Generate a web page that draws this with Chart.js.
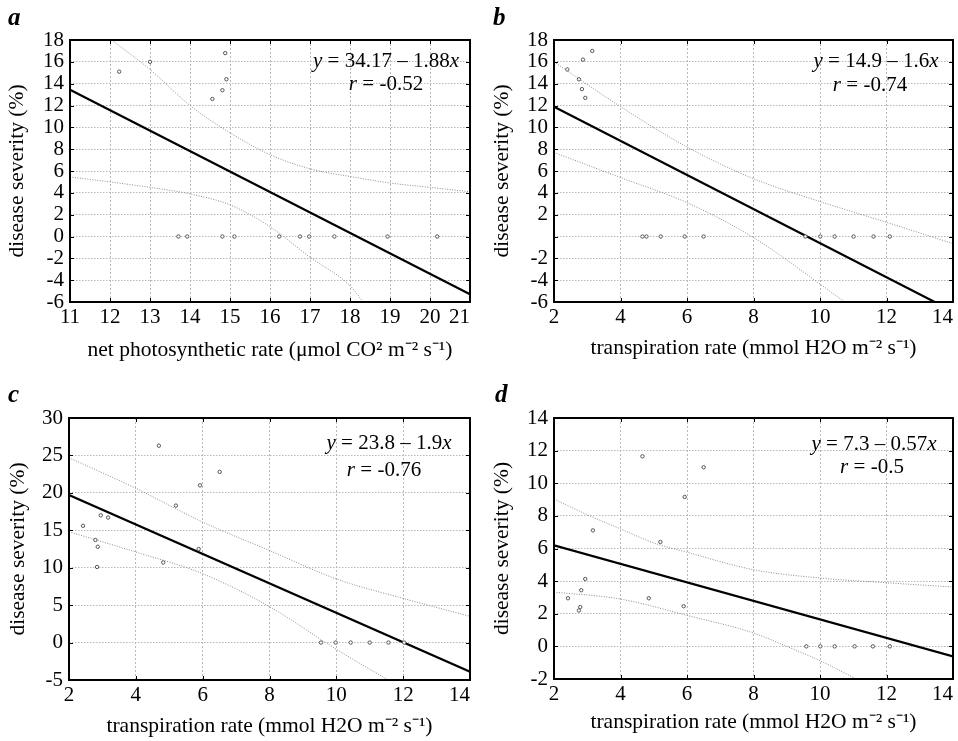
<!DOCTYPE html>
<html>
<head>
<meta charset="utf-8">
<script src="https://cdn.jsdelivr.net/npm/chart.js@4/dist/chart.umd.min.js"></script>
<style>
  html, body { margin: 0; padding: 0; background: #fff; }
  #wrap { position: relative; width: 958px; height: 741px; overflow: hidden; }
  canvas { position: absolute; display: block; }
</style>
</head>
<body>
<div id="wrap">
  <canvas id="chartA" width="479" height="370" style="left:0;top:0"></canvas>
  <canvas id="chartB" width="479" height="370" style="left:479px;top:0"></canvas>
  <canvas id="chartC" width="479" height="371" style="left:0;top:370px"></canvas>
  <canvas id="chartD" width="479" height="371" style="left:479px;top:370px"></canvas>
</div>
<script>
(function () {
  "use strict";

  /* ===== Data ===== */
  var Y_TITLE = "disease severity (%)";
  var X_TITLE_A = "net photosynthetic rate (\u03bcmol CO\u00b2 m\u207b\u00b2 s\u207b\u00b9)";
  var X_TITLE_T = "transpiration rate (mmol H2O m\u207b\u00b2 s\u207b\u00b9)";

  // a: photosynthetic rate vs severity
  var A_X_TICKS = [11, 12, 13, 14, 15, 16, 17, 18, 19, 20, 21];
  var A_Y_TICKS = [-6, -4, -2, 0, 2, 4, 6, 8, 10, 12, 14, 16, 18];
  var A_PTS_X = [12.23, 13.0, 14.88, 14.91, 14.81, 14.56, 13.71, 13.93, 14.81, 15.11, 16.23, 16.75, 16.98, 17.61, 18.94, 20.18];
  var A_PTS_Y = [15.1, 16.0, 16.8, 14.4, 13.4, 12.6, 0, 0, 0, 0, 0, 0, 0, 0, 0, 0];
  var A_FIT_X = [11, 21];
  var A_FIT_Y = [13.45, -5.3];
  var A_UP_X = [12.04, 13, 14, 15, 16, 17, 18, 19, 20, 21];
  var A_UP_Y = [18, 15.3, 12.0, 9.5, 7.5, 6.2, 5.5, 4.9, 4.5, 4.1];
  var A_LO_X = [11, 12, 13, 14, 15, 16, 17, 18, 18.33];
  var A_LO_Y = [5.45, 5.0, 4.5, 3.9, 2.9, 0.9, -1.9, -4.5, -6];
  var A_EQ = "34.17 \u2013 1.88";
  var A_R = "-0.52";

  // b: transpiration rate vs severity
  var T_X_TICKS = [2, 4, 6, 8, 10, 12, 14];
  var B_Y_TICKS = [-6, -4, -2, 0, 2, 4, 6, 8, 10, 12, 14, 16, 18];
  var B_PTS_X = [2.40, 2.87, 3.15, 2.75, 2.84, 2.94, 4.66, 4.78, 5.21, 5.93, 6.50, 9.56, 10.01, 10.44, 11.01, 11.61, 12.10];
  var B_PTS_Y = [15.3, 16.2, 17.0, 14.4, 13.5, 12.7, 0, 0, 0, 0, 0, 0, 0, 0, 0, 0, 0];
  var B_FIT_X = [2, 13.45];
  var B_FIT_Y = [11.88, -6];
  var B_UP_X = [2, 4, 6, 8, 10, 12, 14];
  var B_UP_Y = [16.0, 11.9, 8.2, 5.3, 3.2, 1.3, -0.65];
  var B_LO_X = [2, 4, 6, 8, 10, 10.74];
  var B_LO_Y = [7.7, 5.4, 3.1, -0.1, -4.35, -6];
  var B_EQ = "14.9 \u2013 1.6";
  var B_R = "-0.74";

  // c
  var C_Y_TICKS = [-5, 0, 5, 10, 15, 20, 25, 30];
  var C_PTS_X = [4.69, 6.51, 5.92, 5.20, 2.95, 3.17, 2.42, 2.79, 2.86, 5.88, 4.82, 2.84, 9.54, 9.98, 10.43, 11.00, 11.56, 12.03];
  var C_PTS_Y = [26.3, 22.8, 21.0, 18.3, 17.0, 16.7, 15.6, 13.7, 12.8, 12.5, 10.7, 10.1, 0, 0, 0, 0, 0, 0];
  var C_FIT_X = [2, 14];
  var C_FIT_Y = [19.7, -3.9];
  var C_UP_X = [2, 4, 6, 8, 10, 12, 14];
  var C_UP_Y = [24.7, 20.6, 16.1, 12.3, 8.5, 5.9, 3.5];
  var C_LO_X = [2, 4, 6, 8, 10, 11.55];
  var C_LO_Y = [14.8, 12.1, 9.2, 4.8, -0.9, -5];
  var C_EQ = "23.8 \u2013 1.9";
  var C_R = "-0.76";

  // d
  var D_Y_TICKS = [-2, 0, 2, 4, 6, 8, 10, 12, 14];
  var D_PTS_X = [4.66, 6.50, 5.93, 3.17, 5.20, 2.94, 2.82, 2.42, 4.85, 5.90, 2.79, 2.75, 9.59, 10.01, 10.44, 11.04, 11.59, 12.10];
  var D_PTS_Y = [11.65, 10.98, 9.16, 7.11, 6.40, 4.13, 3.44, 2.95, 2.95, 2.46, 2.41, 2.2, 0, 0, 0, 0, 0, 0];
  var D_FIT_X = [2, 14];
  var D_FIT_Y = [6.19, -0.61];
  var D_UP_X = [2, 3, 4, 5, 6, 8, 10, 12, 14];
  var D_UP_Y = [9.03, 8.07, 7.2, 6.34, 5.77, 4.7, 4.19, 3.9, 3.64];
  var D_LO_X = [2, 4, 6, 8, 9, 10, 11.09];
  var D_LO_Y = [3.33, 2.9, 1.9, 0.82, 0, -0.88, -2];
  var D_EQ = "7.3 \u2013 0.57";
  var D_R = "-0.5";

  /* ===== Styles ===== */
  var SERIF = "'Liberation Serif', 'Times New Roman', serif";
  var TICK_FONT = { family: SERIF, size: 21 };
  var TITLE_FONT = { family: SERIF, size: 21.5, lineHeight: 1.2 };
  var GRID_COLOR = "#b8b8b8";
  var BAND_COLOR = "#8c8c8c";
  var INNER_TICK = 4;

  function xy(xs, ys) {
    return xs.map(function (x, i) { return { x: x, y: ys[i] }; });
  }

  function drawRuns(ctx, runs, cx, baseline) {
    var size = 21;
    var fonts = runs.map(function (r) {
      return (r[1] ? "italic " : "") + size + "px " + SERIF;
    });
    var total = 0;
    runs.forEach(function (r, i) {
      ctx.font = fonts[i];
      total += ctx.measureText(r[0]).width;
    });
    var x = cx - total / 2;
    ctx.textAlign = "left";
    ctx.textBaseline = "alphabetic";
    runs.forEach(function (r, i) {
      ctx.font = fonts[i];
      ctx.fillText(r[0], x, baseline);
      x += ctx.measureText(r[0]).width;
    });
  }

  /* frame box with inward ticks, panel letter and regression text */
  var panelDecor = {
    id: "panelDecor",
    afterDraw: function (chart) {
      var o = chart.options.plugins.panelDecor;
      var ctx = chart.ctx;
      var a = chart.chartArea;
      var sx = chart.scales.x, sy = chart.scales.y;
      ctx.save();
      ctx.strokeStyle = "#000";
      ctx.lineWidth = 1;
      ctx.beginPath();
      sx.ticks.forEach(function (t) {
        var px = Math.round(sx.getPixelForValue(t.value)) + 0.5;
        ctx.moveTo(px, a.bottom); ctx.lineTo(px, a.bottom - INNER_TICK);
        ctx.moveTo(px, a.top); ctx.lineTo(px, a.top + INNER_TICK);
      });
      sy.ticks.forEach(function (t) {
        var py = Math.round(sy.getPixelForValue(t.value)) + 0.5;
        ctx.moveTo(a.left, py); ctx.lineTo(a.left + INNER_TICK, py);
        ctx.moveTo(a.right, py); ctx.lineTo(a.right - INNER_TICK, py);
      });
      ctx.stroke();
      ctx.lineWidth = 2;
      ctx.strokeRect(a.left, a.top, a.right - a.left, a.bottom - a.top);
      ctx.fillStyle = "#000";
      ctx.font = "bold italic 25px " + SERIF;
      ctx.textAlign = "left";
      ctx.textBaseline = "alphabetic";
      ctx.fillText(o.letter, o.letterX, o.letterY);
      drawRuns(ctx, [["y", true], [" = " + o.eq, false], ["x", true]], o.eqX, o.eqY);
      drawRuns(ctx, [["r", true], [" = " + o.r, false]], o.rX, o.rY);
      ctx.restore();
    }
  };

  function makeChart(id, p) {
    var lastX = p.xTicks[p.xTicks.length - 1];
    return new Chart(document.getElementById(id), {
      type: "scatter",
      data: {
        datasets: [
          {
            data: xy(p.ptsX, p.ptsY),
            pointStyle: "circle",
            pointRadius: 1.7,
            borderWidth: 1,
            borderColor: "#555",
            backgroundColor: "#fff",
          },
          {
            data: xy(p.fitX, p.fitY),
            showLine: true,
            borderColor: "#000",
            borderWidth: 2.2,
            pointRadius: 0,
          },
          {
            data: xy(p.upX, p.upY),
            showLine: true,
            borderColor: BAND_COLOR,
            borderWidth: 1,
            borderDash: [1, 1.5],
            pointRadius: 0,
            cubicInterpolationMode: "monotone",
          },
          {
            data: xy(p.loX, p.loY),
            showLine: true,
            borderColor: BAND_COLOR,
            borderWidth: 1,
            borderDash: [1, 1.5],
            pointRadius: 0,
            cubicInterpolationMode: "monotone",
          },
        ],
      },
      options: {
        responsive: false,
        animation: false,
        events: [],
        layout: { padding: { left: 0, top: p.top, right: p.right, bottom: 0 } },
        plugins: {
          legend: { display: false },
          tooltip: { enabled: false },
          panelDecor: {
            letter: p.letter, letterX: p.letterX, letterY: p.letterY,
            eq: p.eq, eqX: p.eqX, eqY: p.eqY,
            r: p.r, rX: p.rX, rY: p.rY,
          },
        },
        scales: {
          x: {
            type: "linear",
            min: p.xTicks[0],
            max: lastX,
            afterBuildTicks: function (s) {
              s.ticks = p.xTicks.map(function (v) { return { value: v }; });
            },
            afterFit: function (s) {
              s.height = p.xHeight;
              s.paddingLeft = 0; s.paddingRight = 0;
              s.paddingTop = 0; s.paddingBottom = 0;
            },
            ticks: {
              autoSkip: false,
              maxRotation: 0,
              color: "#000",
              font: TICK_FONT,
              padding: 3,
              callback: function (v) {
                return v === lastX ? String(v) + "\u2007\u2007" : String(v);
              },
            },
            grid: { color: GRID_COLOR, drawTicks: false, lineWidth: 1 },
            border: { display: false, dash: [2, 2] },
            title: {
              display: true, text: p.xTitle, color: "#000", font: TITLE_FONT,
              padding: { top: 0, bottom: p.xTitlePad },
            },
          },
          y: {
            type: "linear",
            min: p.yTicks[0],
            max: p.yTicks[p.yTicks.length - 1],
            afterBuildTicks: function (s) {
              s.ticks = p.yTicks.map(function (v) { return { value: v }; });
            },
            afterFit: function (s) {
              s.width = p.yWidth;
              s.paddingLeft = 0; s.paddingRight = 0;
              s.paddingTop = 0; s.paddingBottom = 0;
            },
            ticks: {
              autoSkip: false,
              color: "#000",
              font: TICK_FONT,
              padding: 6,
              callback: function (v) {
                return p.yHide.indexOf(v) >= 0 ? "" : String(v);
              },
            },
            grid: { color: GRID_COLOR, drawTicks: false, lineWidth: 1 },
            border: { display: false, dash: [1.5, 1.5] },
            title: {
              display: true, text: Y_TITLE, color: "#000", font: TITLE_FONT,
              padding: { top: p.yTitlePad, bottom: 0 },
            },
          },
        },
      },
      plugins: [panelDecor],
    });
  }

  makeChart("chartA", {
    xTicks: A_X_TICKS, yTicks: A_Y_TICKS, yHide: [],
    ptsX: A_PTS_X, ptsY: A_PTS_Y, fitX: A_FIT_X, fitY: A_FIT_Y,
    upX: A_UP_X, upY: A_UP_Y, loX: A_LO_X, loY: A_LO_Y,
    xTitle: X_TITLE_A, top: 40, right: 9, yWidth: 70, xHeight: 68,
    xTitlePad: 7, yTitlePad: 4,
    letter: "a", letterX: 8, letterY: 25,
    eq: A_EQ, eqX: 386, eqY: 67, r: A_R, rX: 386, rY: 90,
  });

  makeChart("chartB", {
    xTicks: T_X_TICKS, yTicks: B_Y_TICKS, yHide: [0],
    ptsX: B_PTS_X, ptsY: B_PTS_Y, fitX: B_FIT_X, fitY: B_FIT_Y,
    upX: B_UP_X, upY: B_UP_Y, loX: B_LO_X, loY: B_LO_Y,
    xTitle: X_TITLE_T, top: 40, right: 5, yWidth: 75, xHeight: 68,
    xTitlePad: 9, yTitlePad: 10,
    letter: "b", letterX: 14, letterY: 25,
    eq: B_EQ, eqX: 397, eqY: 67, r: B_R, rX: 391, rY: 91,
  });

  makeChart("chartC", {
    xTicks: T_X_TICKS, yTicks: C_Y_TICKS, yHide: [],
    ptsX: C_PTS_X, ptsY: C_PTS_Y, fitX: C_FIT_X, fitY: C_FIT_Y,
    upX: C_UP_X, upY: C_UP_Y, loX: C_LO_X, loY: C_LO_Y,
    xTitle: X_TITLE_T, top: 48, right: 9, yWidth: 69, xHeight: 61,
    xTitlePad: 2, yTitlePad: 5,
    letter: "c", letterX: 8, letterY: 32,
    eq: C_EQ, eqX: 389, eqY: 79, r: C_R, rX: 384, rY: 106,
  });

  makeChart("chartD", {
    xTicks: T_X_TICKS, yTicks: D_Y_TICKS, yHide: [],
    ptsX: D_PTS_X, ptsY: D_PTS_Y, fitX: D_FIT_X, fitY: D_FIT_Y,
    upX: D_UP_X, upY: D_UP_Y, loX: D_LO_X, loY: D_LO_Y,
    xTitle: X_TITLE_T, top: 48, right: 5, yWidth: 75, xHeight: 62,
    xTitlePad: 6, yTitlePad: 10,
    letter: "d", letterX: 16, letterY: 32,
    eq: D_EQ, eqX: 395, eqY: 80, r: D_R, rX: 393, rY: 103,
  });
})();
</script>
</body>
</html>
